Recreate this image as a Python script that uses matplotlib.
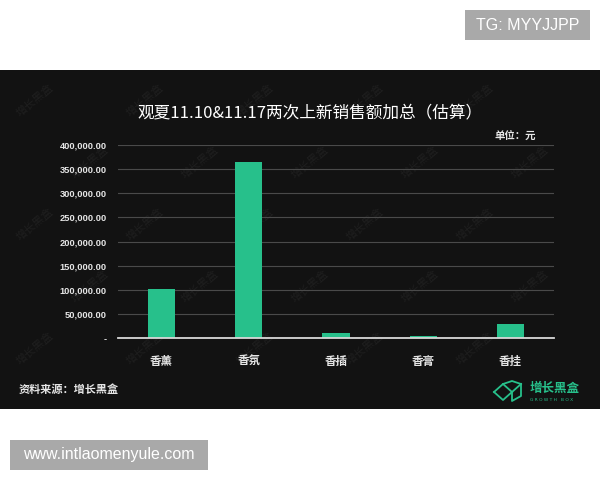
import numpy as np
import matplotlib
matplotlib.use('Agg')
import matplotlib.pyplot as plt
from matplotlib.patches import Rectangle
from matplotlib.lines import Line2D
from matplotlib.ticker import FuncFormatter, MultipleLocator

plt.rcParams['font.family'] = ['Noto Sans CJK SC', 'DejaVu Sans']

# --- Data ---
categories = ['香薰', '香氛', '香插', '香膏', '香挂']
sales = [102000, 364000, 10500, 4500, 29000]
title = '观夏11.10&11.17两次上新销售额加总（估算）'
unit_label = '单位：元'
source_label = '资料来源：增长黑盒'

BG = '#121212'
BAR = '#27c08b'
W, H = 600, 480


def px(x, y):
    # pixel position (top-left origin) -> figure fraction
    return x / W, 1 - y / H


fig = plt.figure(figsize=(6, 4.8), dpi=100)
fig.patch.set_facecolor('white')

# dark panel
panel = Rectangle(px(0, 409), 1, (409 - 70) / H, transform=fig.transFigure,
                  facecolor=BG, edgecolor='none', zorder=-3)
fig.add_artist(panel)

# faint watermarks, kept well inside the panel
for i, wy in enumerate(range(100, 390, 62)):
    off = 55 if i % 2 else 0
    for wx in range(35, 580, 110):
        if wx + off > 570:
            continue
        fig.text(*px(wx + off, wy), '增长黑盒', color='#1f1f1f', fontsize=8,
                 rotation=40, ha='center', va='center', zorder=-2)

# --- Chart ---
left, right = px(118, 0)[0], px(554, 0)[0]
bottom, top = px(0, 338.3)[1], px(0, 145)[1]
ax = fig.add_axes([left, bottom, right - left, top - bottom])
ax.set_facecolor('none')

x = np.arange(len(categories))
ax.bar(x, sales, width=0.31, color=BAR, zorder=3)

ax.set_xlim(-0.5, len(categories) - 0.5)
ax.set_ylim(0, 400000)
ax.yaxis.set_major_locator(MultipleLocator(50000))
ax.yaxis.set_major_formatter(FuncFormatter(lambda v, p: '-' if v == 0 else f'{v:,.2f}'))
ax.grid(axis='y', color='#4a4a4a', linewidth=0.8, zorder=1)
ax.set_axisbelow(True)

for s in ['top', 'right', 'left']:
    ax.spines[s].set_visible(False)
ax.spines['bottom'].set_color('#d8d8d8')
ax.spines['bottom'].set_linewidth(1.3)
ax.spines['bottom'].set_zorder(4)

ax.tick_params(axis='both', length=0, colors='#e6e6e6')
ax.tick_params(axis='y', pad=8)
ax.tick_params(axis='x', pad=12)
for lab in ax.get_yticklabels():
    lab.set_family(['Liberation Sans', 'DejaVu Sans'])
    lab.set_fontsize(6.7)
    lab.set_fontweight('bold')
ax.set_xticks(x)
ax.set_xticklabels(categories, fontsize=8.3, fontweight='bold', color='#e6e6e6')

# --- Texts ---
fig.text(*px(310, 113), title, color='white', fontsize=12, ha='center', va='center')
fig.text(*px(536, 137), unit_label, color='#e6e6e6', fontsize=7.5, fontweight='bold',
         ha='right', va='center')
fig.text(*px(19, 389), source_label, color='#e6e6e6', fontsize=8, fontweight='bold',
         ha='left', va='center')

# logo
LOGO = '#27c08b'
icon = [[(494, 392), (503, 384), (512, 392), (521, 384)],
        [(494, 392), (503, 400), (512, 392)],
        [(512, 392), (512, 401), (521, 396), (521, 384)],
        [(503, 384), (512, 381), (521, 384)]]
for seg in icon:
    xs, ys = zip(*[px(a, b) for a, b in seg])
    fig.add_artist(Line2D(xs, ys, transform=fig.transFigure, color=LOGO, lw=1.3))
fig.text(*px(530, 388), '增长黑盒', color=LOGO, fontsize=9, fontweight='bold',
         ha='left', va='center')
fig.text(*px(530, 400), 'G R O W T H   B O X', color=LOGO, fontsize=3.2,
         ha='left', va='center', family=['DejaVu Sans'])

# --- Overlay labels ---
fig.add_artist(Rectangle(px(465, 40), 125 / W, 30 / H, transform=fig.transFigure,
                         facecolor='#a9a9a9', edgecolor='none'))
fig.text(*px(527.5, 25), 'TG: MYYJJPP', color='white', fontsize=11.5,
         ha='center', va='center', family=['Liberation Sans', 'DejaVu Sans'])
fig.add_artist(Rectangle(px(10, 470), 198 / W, 30 / H, transform=fig.transFigure,
                         facecolor='#a9a9a9', edgecolor='none'))
fig.text(*px(109, 455), 'www.intlaomenyule.com', color='white', fontsize=11.5,
         ha='center', va='center', family=['Liberation Sans', 'DejaVu Sans'])

fig.savefig('out.png', dpi=100, facecolor=fig.get_facecolor())
